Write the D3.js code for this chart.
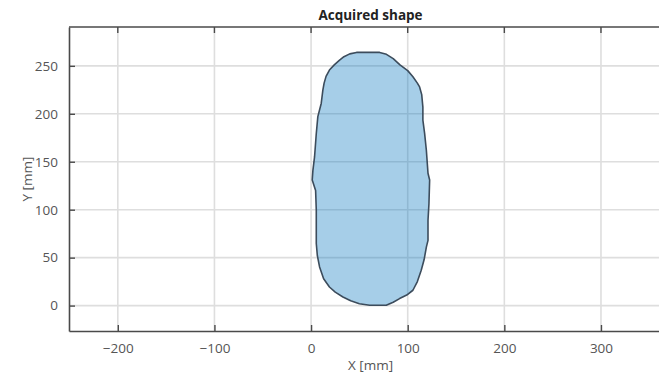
<!DOCTYPE html>
<html><head><meta charset="utf-8">
<script src="https://cdn.jsdelivr.net/npm/d3@7"></script>
<style>
html,body{margin:0;padding:0;background:#fff;overflow:hidden;}
text{font-family:"Open Sans","Noto Sans",sans-serif;}
</style></head>
<body>
<svg id="c" width="659" height="377"></svg>
<script>
// Shape outline points [x mm, y mm]
const shapeX = [47, 71, 78, 85, 92, 100, 105.4, 110, 112.3, 114.5, 115.7, 115.7, 117.5, 119.3, 121, 122.7, 122, 121, 121, 119.3, 117, 114, 110, 105.4, 99, 91.6, 85, 77.8, 60.6, 50, 41, 33, 25, 19, 13, 8.8, 6.5, 5.4, 5.4, 4.7, 1.2, 1.9, 3.6, 5.4, 7, 10.5, 12.2, 13.5, 15.5, 19, 24, 29.5, 34, 40];
const shapeY = [264, 264, 262, 257.5, 251, 245, 238.6, 232, 228, 220, 207, 193.4, 179.5, 162, 138, 131, 106.5, 89, 68, 61, 48, 36.8, 25, 16, 11, 7.3, 3.5, 0.3, 0.3, 2, 5, 9, 14, 19.4, 28, 40.3, 52, 64.7, 99.5, 120, 131, 141, 155, 179.5, 197, 210.8, 224.7, 232, 239, 245.6, 251, 256, 259.5, 262.5];
const xTicks = [-200, -100, 0, 100, 200, 300];
const yTicks = [0, 50, 100, 150, 200, 250];
const xDomain = [-250.5, 373.5];
const yDomain = [-26.5, 290.5];
const title = "Acquired shape";
const xLabel = "X [mm]";
const yLabel = "Y [mm]";

const svg = d3.select("#c");
const L = 69, T = 27, R = 672, B = 331;
const x = d3.scaleLinear().domain(xDomain).range([L, R]);
const y = d3.scaleLinear().domain(yDomain).range([B, T]);

// grid
const g = svg.append("g");
g.selectAll(".gx").data(xTicks).join("line")
  .attr("x1", d => x(d)).attr("x2", d => x(d)).attr("y1", T).attr("y2", B)
  .attr("stroke", "#dedede").attr("stroke-width", 1.6);
g.selectAll(".gy").data(yTicks).join("line")
  .attr("y1", d => y(d)).attr("y2", d => y(d)).attr("x1", L).attr("x2", R)
  .attr("stroke", "#dedede").attr("stroke-width", 1.6);

// shape
const pts = shapeX.map((d, i) => [x(d), y(shapeY[i])]);
svg.append("path")
  .attr("d", d3.line().curve(d3.curveLinearClosed)(pts))
  .attr("fill", "#0072BD").attr("fill-opacity", 0.35)
  .attr("stroke", "#3c4c5c").attr("stroke-width", 1.6).attr("stroke-linejoin", "round");

// axes
const ax = svg.append("g").attr("transform", `translate(0,${B})`)
  .call(d3.axisBottom(x).tickValues(xTicks).tickSizeInner(-6).tickSizeOuter(0).tickPadding(12));
const ay = svg.append("g").attr("transform", `translate(${L},0)`)
  .call(d3.axisLeft(y).tickValues(yTicks).tickSizeInner(-6).tickSizeOuter(0).tickPadding(11));
[ax, ay].forEach(a => {
  a.select(".domain").attr("stroke", "#4a4a4a").attr("stroke-width", 1.6);
  a.selectAll(".tick line").attr("stroke", "#4a4a4a").attr("stroke-width", 1.4);
  a.selectAll(".tick text").attr("fill", "#555").attr("font-size", 13.5)
    .attr("font-family", "'Open Sans','Noto Sans',sans-serif");
});
// top box line
svg.append("line").attr("x1", L).attr("x2", R).attr("y1", T).attr("y2", T)
  .attr("stroke", "#4a4a4a").attr("stroke-width", 1.4);
// top ticks
svg.selectAll(".tt").data(xTicks).join("line")
  .attr("x1", d => x(d)).attr("x2", d => x(d)).attr("y1", T).attr("y2", T + 6)
  .attr("stroke", "#4a4a4a").attr("stroke-width", 1.4);

// labels
svg.append("text").attr("x", (L + R) / 2).attr("y", 20).attr("text-anchor", "middle")
  .attr("font-weight", "bold").attr("font-size", 13.5).attr("fill", "#222").text(title);
svg.append("text").attr("x", (L + R) / 2).attr("y", 370).attr("text-anchor", "middle")
  .attr("font-size", 13.5).attr("fill", "#555").text(xLabel);
svg.append("text").attr("transform", `translate(32,${(T + B) / 2}) rotate(-90)`)
  .attr("text-anchor", "middle").attr("font-size", 13.5).attr("fill", "#555").text(yLabel);
</script>
</body></html>
